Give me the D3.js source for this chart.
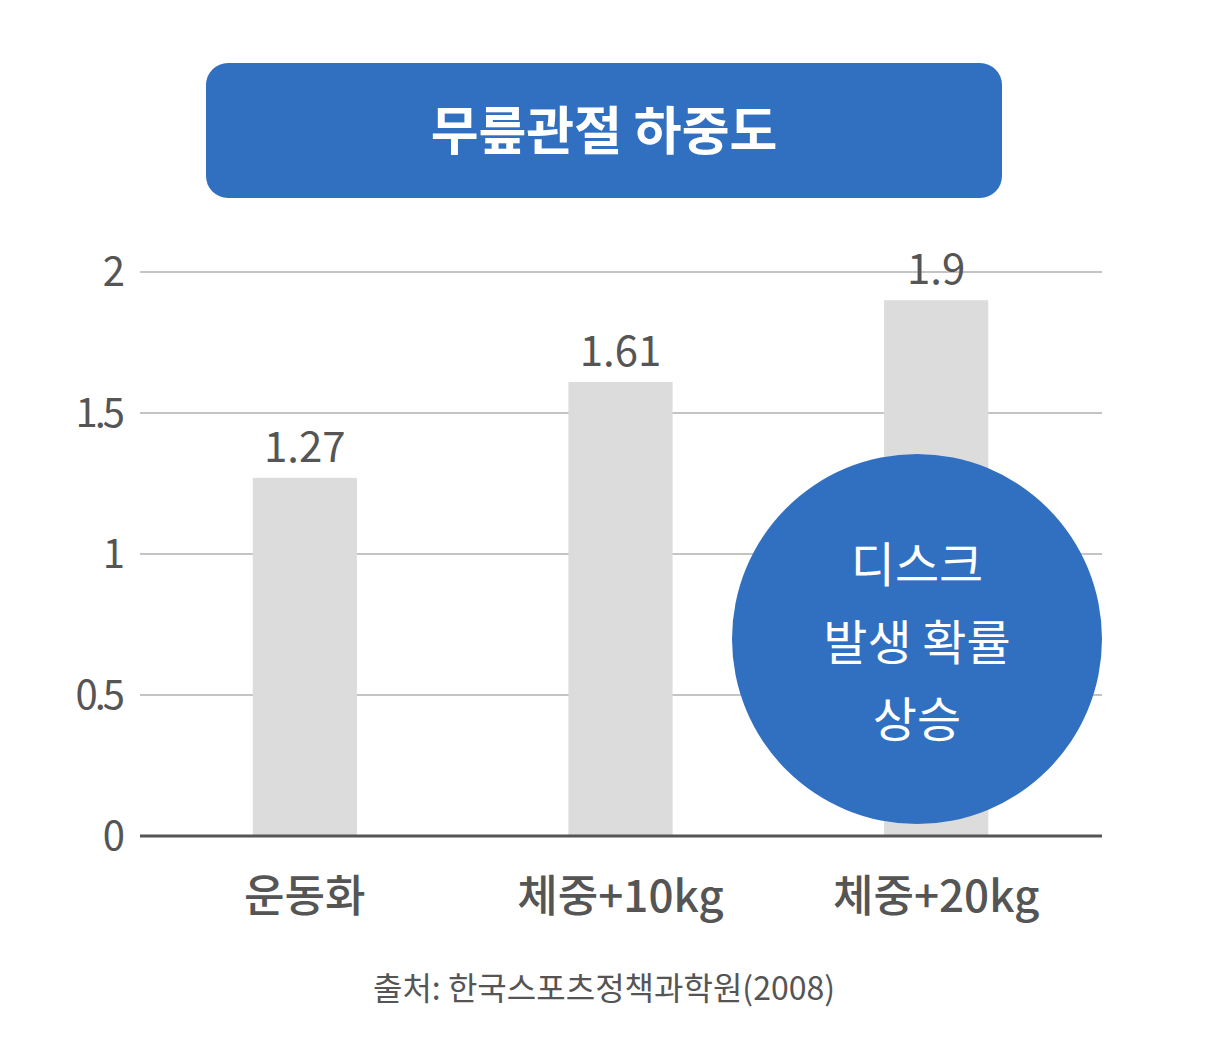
<!DOCTYPE html><html><head><meta charset="utf-8">
<script src="https://cdn.jsdelivr.net/npm/d3@7"></script>
<style>body{margin:0;background:#fff}text{font-family:"Noto Sans CJK KR","Noto Sans",sans-serif}</style></head>
<body><svg id="c" width="1209" height="1042"></svg>
<script>
const categories=["운동화","체중+10kg","체중+20kg"];
const values=[1.27,1.61,1.9];
const ticks=[0,0.5,1,1.5,2];
const tickLabels=["0","0.5","1","1.5","2"];
const svg=d3.select("#c");
const x=d3.scaleBand().domain(categories).range([147,1094]).paddingInner(0.67).paddingOuter(0.335);
const y=d3.scaleLinear().domain([0,2]).range([836,272]);
ticks.forEach((t,i)=>{
 if(t>0)svg.append("line").attr("x1",140).attr("x2",1102).attr("y1",y(t)).attr("y2",y(t)).attr("stroke","#b0b0b0").attr("stroke-width",1.5);
 svg.append("text").attr("x",122).attr("y",y(t)+14).attr("text-anchor","end").attr("font-size",40).attr("fill","#555").attr("letter-spacing",-3).text(tickLabels[i]);
});
svg.selectAll("rect.bar").data(values).join("rect").attr("x",(d,i)=>x(categories[i])).attr("width",x.bandwidth()).attr("y",d=>y(d)).attr("height",d=>836-y(d)).attr("fill","#dcdcdc");
svg.selectAll("text.v").data(values).join("text").attr("x",(d,i)=>x(categories[i])+x.bandwidth()/2).attr("y",d=>y(d)-16).attr("text-anchor","middle").attr("font-size",42).attr("fill","#555").text(d=>d);
svg.append("line").attr("x1",140).attr("x2",1102).attr("y1",836).attr("y2",836).attr("stroke","#555").attr("stroke-width",3);
categories.forEach(c=>svg.append("text").attr("x",x(c)+x.bandwidth()/2).attr("y",912).attr("text-anchor","middle").attr("font-size",44).attr("font-weight",500).attr("fill","#555").text(c));
svg.append("rect").attr("x",206).attr("y",63).attr("width",796).attr("height",135).attr("rx",22).attr("fill","#3170c1");
svg.append("text").attr("x",604).attr("y",150).attr("text-anchor","middle").attr("font-size",52).attr("font-weight",700).attr("fill","#fff").text("무릎관절 하중도");
svg.append("circle").attr("cx",917).attr("cy",639).attr("r",185).attr("fill","#3170c1");
[["디스크",582],["발생 확률",660],["상승",737]].forEach(([t,yy])=>svg.append("text").attr("x",917).attr("y",yy).attr("text-anchor","middle").attr("font-size",48).attr("fill","#fff").text(t));
svg.append("text").attr("x",604).attr("y",1000).attr("text-anchor","middle").attr("font-size",32).attr("fill","#555").text("출처: 한국스포츠정책과학원(2008)");
</script></body></html>
